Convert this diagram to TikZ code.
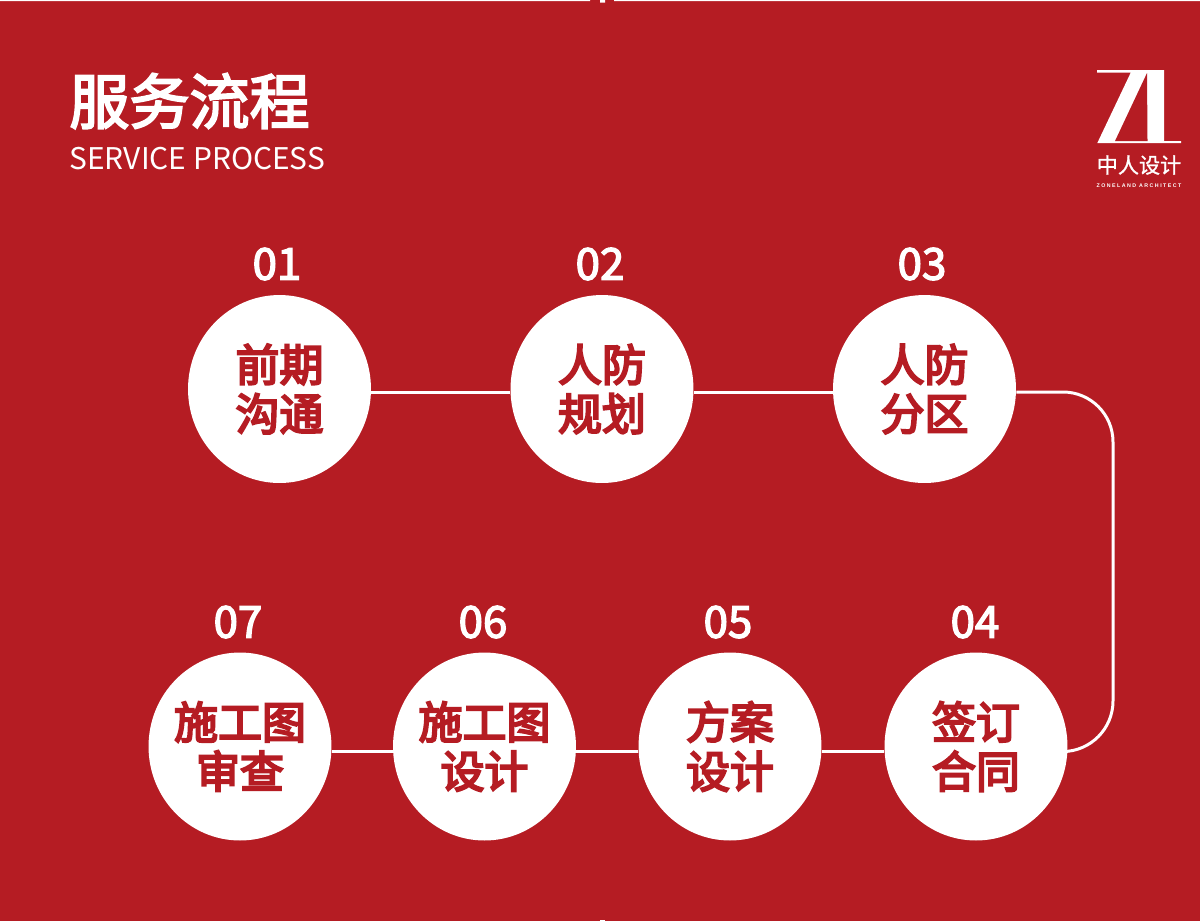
\documentclass[tikz,border=0pt]{standalone}
\usepackage{xcolor}
\usepackage{fontspec}
\usetikzlibrary{positioning,shapes.geometric}
\setmainfont{Noto Sans CJK SC}
\newfontfamily\logofont[LetterSpace=28]{Liberation Sans}
\newfontfamily\medfont[FakeBold=3.2]{Noto Sans CJK SC}
\newfontfamily\numfont[FakeBold=3]{Noto Sans CJK SC}
\newfontfamily\stepfont[FakeBold=4.8]{Noto Sans CJK SC}
\newfontfamily\logocjk[FakeBold=1.2]{Noto Sans CJK SC}
\definecolor{zlred}{HTML}{B51C23}

\begin{document}
\begin{tikzpicture}[
    x=0.02cm, y=-0.02cm,
    stepbox/.style={ellipse, fill=white, text=zlred, inner xsep=-6pt, inner ysep=0pt, minimum width=3.66cm, minimum height=3.76cm, align=center,
        font=\fontsize{25}{28}\selectfont\stepfont},
    stepnum/.style={text=white, inner sep=0pt, font=\fontsize{25}{28}\selectfont\numfont},
    flow/.style={draw=white, line width=1.7pt},
    rowtop/.style={yshift=-0.06cm},
    rowbot/.style={yshift=-0.1cm}
]

\fill[zlred] (0,0) rectangle (1200,921);
\useasboundingbox (0,0) rectangle (1200,921);

% 顶边和底边的细线
\fill[white] (0,0) rectangle (590,1.2) (614,0) rectangle (1200,1.2) (600,0) rectangle (605,2.5);
\fill[white] (600,919.5) rectangle (605,921);

% 标题
\node[text=white, inner sep=0pt, anchor=west, font=\fontsize{34.2}{36}\selectfont\medfont] (title) at (69,101) {服务流程};
\node[text=white, inner sep=0pt, anchor=west, font=\fontsize{17}{20}\selectfont] (subtitle) at (69,159) {SERVICE PROCESS};

% 右上角标志
\fill[white] (1097,70) -- (1164,70) -- (1164,141) -- (1181,141) -- (1181,143) -- (1097.3,143)
    -- (1130.7,72.7) -- (1097,72.7) -- cycle;
\fill[zlred] (1147,73) -- (1115,141) -- (1147.5,141) -- cycle;
\node[text=white, inner sep=0pt, font=\fontsize{12}{13}\selectfont\logocjk] (logotext) at (1139,165) {中人设计};
\node[text=white, inner sep=0pt, font=\fontsize{3}{4}\selectfont\logofont\bfseries] (logoen) at (1139,186) {ZONELAND ARCHITECT};

% 上排
\node[stepbox] (c1) at (279.5,389) {前期\\沟通};
\node[stepbox] (c2) at (602,389) {人防\\规划};
\node[stepbox] (c3) at (924.5,389) {人防\\分区};

% 下排
\node[stepbox] (c4) at (976,746.5) {签订\\合同};
\node[stepbox] (c5) at (730,746.5) {方案\\设计};
\node[stepbox] (c6) at (484.5,746.5) {施工图\\设计};
\node[stepbox] (c7) at (240,746.5) {施工图\\审查};

\node[stepnum] (n1) at (277,264) {01};
\node[stepnum] (n2) at (600,264) {02};
\node[stepnum] (n3) at (922,264) {03};
\node[stepnum] (n4) at (975,622) {04};
\node[stepnum] (n5) at (728,622) {05};
\node[stepnum] (n6) at (483,622) {06};
\node[stepnum] (n7) at (238,622) {07};

% 连线
\coordinate (bendtop) at (1113,392);
\coordinate (bendbot) at (1113,751);
\draw[flow] ([rowtop]c1.east) -- ([rowtop]c2.west);
\draw[flow] ([rowtop]c2.east) -- ([rowtop]c3.west);
\draw[flow, rounded corners=1.0cm] ([rowtop]c3.east) -- (bendtop) -- (bendbot) -- ([rowbot]c4.east);
\draw[flow] ([rowbot]c4.west) -- ([rowbot]c5.east);
\draw[flow] ([rowbot]c5.west) -- ([rowbot]c6.east);
\draw[flow] ([rowbot]c6.west) -- ([rowbot]c7.east);

\end{tikzpicture}
\end{document}
